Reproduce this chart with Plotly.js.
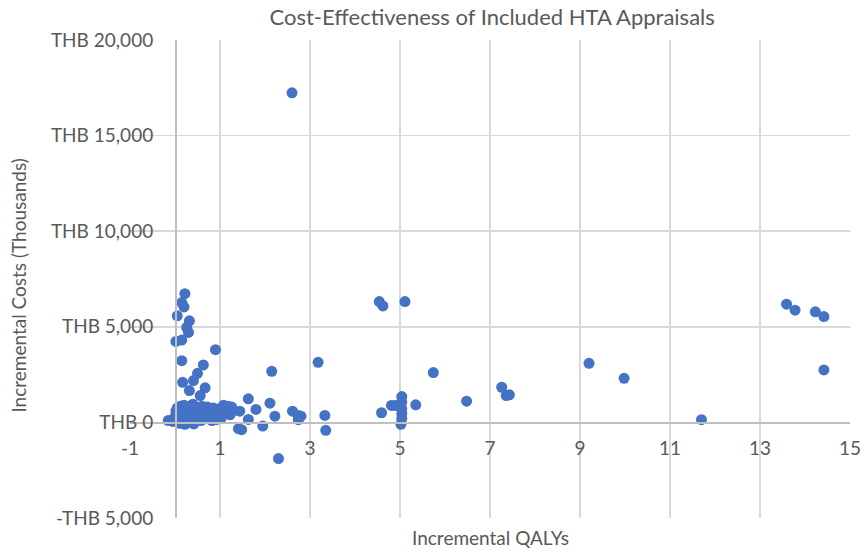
<!DOCTYPE html>
<html>
<head>
<meta charset="utf-8">
<script src="https://cdn.plot.ly/plotly-3.0.1.min.js"></script>
<style>html,body{margin:0;padding:0;background:#fff;}#chart{width:863px;height:551px;}</style>
</head>
<body>
<div id="chart"></div>
<script>
// Incremental QALYs (x) and incremental costs in THB thousands (y)
var qalys = [
  -0.15, -0.05, 0.0, 0.02, 0.05, 0.08, 0.1, 0.1, 0.12, 0.15, 0.15, 0.18, 0.2, 0.22, 0.22, 0.25,
  0.28, 0.3, 0.3, 0.32, 0.35, 0.38, 0.4, 0.42, 0.45, 0.48, 0.5, 0.52, 0.55, 0.58, 0.6, 0.62,
  0.65, 0.68, 0.7, 0.72, 0.75, 0.8, 0.82, 0.85, 0.9, 0.92, 0.95, 1.0, 1.02, 1.08, 1.12, 1.18,
  1.22, 1.26, 1.3, 1.44,
  0.22, 0.15, 0.2, 0.05, 0.32, 0.26, 0.3, 0.02, 0.15, 0.9, 0.15, 0.63, 0.5, 0.17, 0.41, 0.32,
  0.67, 0.56,
  2.15, 1.63, 1.8, 2.11, 2.22, 1.95, 1.63, 1.41, 1.48, 2.61, 2.74, 2.8, 2.74, 3.33, 3.35, 2.3,
  3.18, 2.6,
  4.54, 4.62, 5.11, 5.74, 4.59, 4.81, 4.89, 5.04, 5.04, 5.04, 5.04, 5.04, 5.02, 5.35, 6.48,
  7.26, 7.36, 7.43,
  9.2, 9.98, 11.7, 13.59, 13.78, 14.23, 14.42, 14.42
];
var costs = [
  100, 50, 300, 600, 750, 200, 450, -50, 850, 650, 100, 350, 900, 550, -100, 200,
  700, 450, 0, 850, 250, 600, 950, -80, 400, 150, 750, 300, 550, 100, 850, 400,
  700, 200, 500, 800, 300, 600, 100, 750, 400, 150, 700, 500, 200, 900, 650, 850,
  400, 800, 600, 588,
  6734, 6266, 6041, 5572, 5312, 4963, 4703, 4234, 4307, 3802, 3229, 3005, 2568, 2099, 2187, 1667,
  1807, 1406,
  2672, 1234, 677, 1005, 328, -193, 156, -328, -380, 588, 365, 328, 141, 365, -417, -1890,
  3140, 17240,
  6318, 6093, 6318, 2604, 505, 885, 885, 1350, 1057, 713, 453, 200, -100, 922, 1109,
  1838, 1406, 1442,
  3089, 2307, 141, 6182, 5870, 5781, 5536, 2745
];
var xTickVals = [-1, 1, 3, 5, 7, 9, 11, 13, 15];
var yTickVals = [-5000, 0, 5000, 10000, 15000, 20000];
var yTickText = ["-THB 5,000", "THB 0", "THB 5,000", "THB 10,000", "THB 15,000", "THB 20,000"];

var FONT = "Lato, 'Open Sans', sans-serif";
var GREY = "#595959";

var trace = {
  type: "scatter",
  mode: "markers",
  x: qalys,
  y: costs,
  marker: {color: "#4472C4", size: 11, line: {width: 0}},
  hoverinfo: "x+y",
  showlegend: false
};

var layout = {
  width: 863,
  height: 551,
  paper_bgcolor: "#ffffff",
  plot_bgcolor: "#ffffff",
  margin: {l: 130, r: 13, t: 40, b: 33},
  font: {family: FONT, color: GREY, size: 19},
  title: {
    text: "Cost-Effectiveness of Included HTA Appraisals",
    font: {family: FONT, size: 22, color: GREY},
    x: 0.503, xanchor: "center", xref: "paper",
    y: 0.969, yanchor: "middle", yref: "container"
  },
  xaxis: {
    range: [-1, 15],
    tickvals: xTickVals,
    ticktext: xTickVals.map(String),
    showgrid: true,
    gridcolor: "#d9d9d9",
    gridwidth: 1.5,
    zeroline: false,
    showline: true,
    linecolor: "#bfbfbf",
    linewidth: 1.5,
    anchor: "free",
    position: 0.2,
    ticks: "outside",
    ticklen: 8,
    tickcolor: "rgba(0,0,0,0)",
    tickfont: {family: FONT, size: 19, color: GREY},
    fixedrange: true
  },
  yaxis: {
    range: [-5000, 20000],
    tickvals: yTickVals,
    ticktext: yTickText,
    showgrid: true,
    gridcolor: "#d9d9d9",
    gridwidth: 1.5,
    zeroline: false,
    showline: true,
    linecolor: "#bfbfbf",
    linewidth: 1.5,
    anchor: "free",
    position: 0.0625,
    ticks: "outside",
    ticklen: 18,
    tickcolor: "rgba(0,0,0,0)",
    tickfont: {family: FONT, size: 19, color: GREY},
    fixedrange: true
  },
  annotations: [
    {
      text: "Incremental QALYs",
      xref: "paper", yref: "paper",
      x: 0.5, y: -0.04, xanchor: "center", yanchor: "middle",
      showarrow: false,
      font: {family: FONT, size: 19, color: GREY}
    },
    {
      text: "Incremental Costs (Thousands)",
      xref: "paper", yref: "paper",
      x: -0.155, y: 0.487, xanchor: "center", yanchor: "middle",
      textangle: -90,
      showarrow: false,
      font: {family: FONT, size: 19, color: GREY}
    }
  ]
};

Plotly.newPlot("chart", [trace], layout, {displayModeBar: false, staticPlot: true});
</script>
</body>
</html>
